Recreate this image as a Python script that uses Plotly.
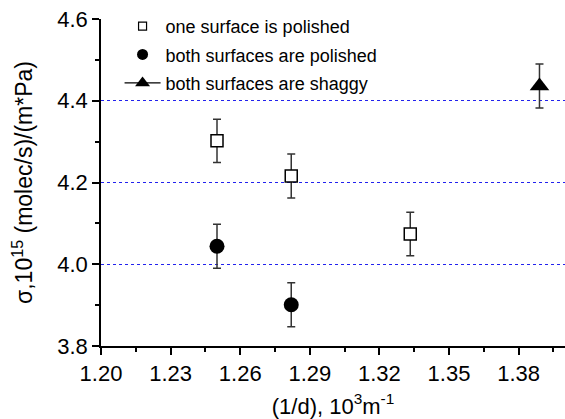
import plotly.graph_objects as go

# Data
x_one = [1.25, 1.282, 1.3333]
y_one = [4.302, 4.216, 4.074]
err_one = [0.053, 0.054, 0.053]

x_both = [1.25, 1.282]
y_both = [4.044, 3.901]
err_both = [0.054, 0.054]

x_shag = [1.389]
y_shag = [4.436]
err_shag = [0.054]

grid_vals = [4.0, 4.2, 4.4]
names = ["one surface is polished", "both surfaces are polished", "both surfaces are shaggy"]

FONT = "Arial, Liberation Sans, sans-serif"
ERRC = "#333333"

fig = go.Figure()

def err(v):
    return dict(type="data", array=v, visible=True, color=ERRC, thickness=1.5, width=4)

fig.add_trace(go.Scatter(x=x_one, y=y_one, mode="markers", error_y=err(err_one),
                         marker=dict(symbol="square", size=12, color="white",
                                     line=dict(color="black", width=1.5)),
                         showlegend=False))
fig.add_trace(go.Scatter(x=x_both, y=y_both, mode="markers", error_y=err(err_both),
                         marker=dict(symbol="circle", size=15, color="black",
                                     line=dict(color="black", width=0)),
                         showlegend=False))
fig.add_trace(go.Scatter(x=x_shag, y=y_shag, mode="markers", error_y=err(err_shag),
                         marker=dict(symbol="triangle-up", size=17, color="black",
                                     line=dict(color="black", width=0)),
                         showlegend=False))

# legend entries
fig.add_trace(go.Scatter(x=[None], y=[None], mode="markers", name=names[0], legendgroup="a",
                         marker=dict(symbol="square", size=8, color="white",
                                     line=dict(color="black", width=1.2))))
fig.add_trace(go.Scatter(x=[None], y=[None], mode="markers", name=names[1], legendgroup="b",
                         marker=dict(symbol="circle", size=11, color="black")))
fig.add_trace(go.Scatter(x=[None], y=[None], mode="lines+markers", name=names[2], legendgroup="c",
                         line=dict(color="black", width=1.2),
                         marker=dict(symbol="triangle-up", size=13, color="black")))

# dotted grid via overlay axis
fig.add_trace(go.Scatter(x=[None], y=[None], yaxis="y2", showlegend=False))

fig.update_layout(
    width=565, height=419,
    margin=dict(l=101, r=0, t=19, b=73),
    paper_bgcolor="white", plot_bgcolor="white",
    font=dict(family=FONT, color="black", size=18),
    showlegend=True,
    legend=dict(x=0.04, y=1.034, xanchor="left", yanchor="top",
                bgcolor="rgba(0,0,0,0)", font=dict(size=18, family=FONT),
                tracegroupgap=2, itemwidth=36),
    xaxis=dict(range=[1.20, 1.40], tick0=1.20, dtick=0.03, tickformat=".2f",
               showline=True, linecolor="black", linewidth=1.5,
               ticks="outside", ticklen=7, tickwidth=1.5, tickcolor="black",
               minor=dict(ticks="outside", ticklen=4, dtick=0.015, tickwidth=1.5, tickcolor="black"),
               showgrid=False, zeroline=False, automargin=False,
               tickfont=dict(size=22, family=FONT),
               title=dict(text="(1/d), 10<sup>3</sup>m<sup>-1</sup>", font=dict(size=22, family=FONT),
                          standoff=13)),
    yaxis=dict(range=[3.8, 4.6], tick0=3.8, dtick=0.2, tickformat=".1f",
               showline=True, linecolor="black", linewidth=1.5,
               ticks="outside", ticklen=7, tickwidth=1.5, tickcolor="black",
               minor=dict(ticks="outside", ticklen=4, dtick=0.1, tickwidth=1.5, tickcolor="black"),
               showgrid=False, zeroline=False, automargin=False,
               tickfont=dict(size=22, family=FONT),
               title=dict(text="σ,10<sup>15</sup> (molec/s)/(m*Pa)", font=dict(size=23, family=FONT),
                          standoff=18)),
    yaxis2=dict(overlaying="y", matches="y", range=[3.8, 4.6], tickvals=grid_vals,
                showgrid=True, griddash="dot", gridcolor="#2222ee", gridwidth=1.3,
                showticklabels=False, ticks="", showline=False, zeroline=False),
)

fig.write_html("out.html")
